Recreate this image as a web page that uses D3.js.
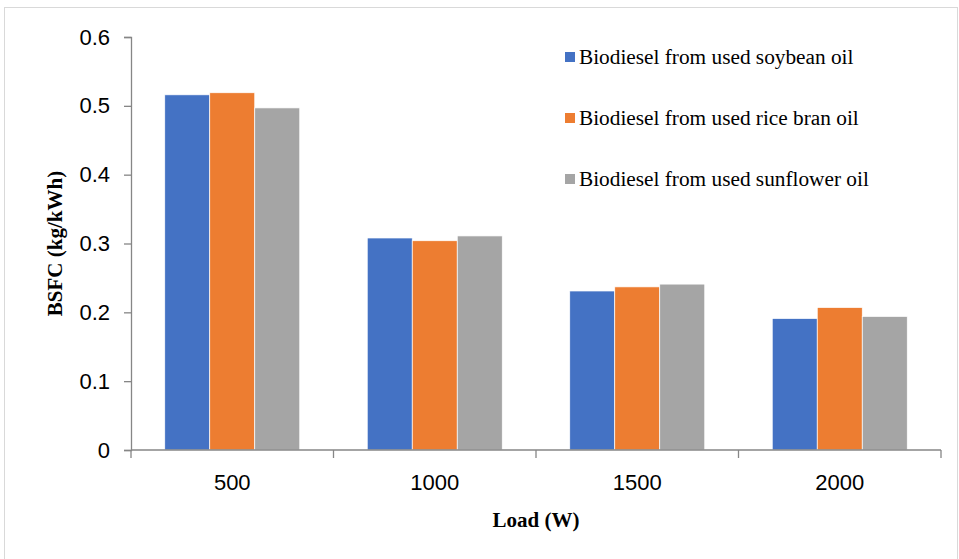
<!DOCTYPE html>
<html lang="en">
<head>
<meta charset="UTF-8">
<title>BSFC vs Load</title>
<script src="https://d3js.org/d3.v7.min.js"></script>
<style>
  body { margin: 0; background: #fff; }
  .tick text { font-family: "Liberation Sans", Arial, sans-serif; font-size: 22px; fill: #000; }
  .axis-title { font-family: "Liberation Serif", "Times New Roman", serif; font-size: 21px; font-weight: bold; }
  .legend text { font-family: "Liberation Serif", "Times New Roman", serif; font-size: 21.3px; }
</style>
</head>
<body>
<svg width="959" height="559"></svg>
<script>
// data
const loads = ["500", "1000", "1500", "2000"];
const seriesNames = [
  "Biodiesel from used soybean oil",
  "Biodiesel from used rice bran oil",
  "Biodiesel from used sunflower oil"
];
const soybean = [0.516, 0.308, 0.231, 0.191];
const riceBran = [0.519, 0.304, 0.237, 0.207];
const sunflower = [0.497, 0.311, 0.241, 0.194];
const colors = ["#4472c4", "#ed7d31", "#a5a5a5"];
const yTicks = [0, 0.1, 0.2, 0.3, 0.4, 0.5, 0.6];

const values = [soybean, riceBran, sunflower];
const rows = loads.map((l, i) => ({ load: l, vals: values.map(v => v[i]) }));

const svg = d3.select("svg");
const margin = { left: 131, right: 18, top: 37, bottom: 109 };
const W = 959, H = 559;

// outer frame
svg.append("rect")
  .attr("x", 4.5).attr("y", 7.5)
  .attr("width", 953).attr("height", 560)
  .attr("fill", "none").attr("stroke", "#d9d9d9");

const x = d3.scaleBand()
  .domain(loads)
  .range([margin.left, W - margin.right])
  .paddingInner(0).paddingOuter(0);

// gap width 150% -> bars take 3/4.5 of each category
const inner = d3.scaleBand()
  .domain(d3.range(seriesNames.length))
  .range([0, x.bandwidth()])
  .paddingOuter(0.75)
  .paddingInner(0);

const y = d3.scaleLinear().domain([0, 0.6]).range([H - margin.bottom, margin.top]);

// bars
const groups = svg.append("g").selectAll("g")
  .data(rows).join("g")
  .attr("transform", d => `translate(${x(d.load)},0)`);

groups.selectAll("rect")
  .data(d => d.vals.map((v, k) => ({ v, k })))
  .join("rect")
  .attr("x", d => inner(d.k))
  .attr("width", inner.bandwidth())
  .attr("y", d => y(d.v))
  .attr("height", d => y(0) - y(d.v))
  .attr("fill", d => colors[d.k])
  .attr("stroke", "#fff").attr("stroke-width", 0.7);

// y axis
const yAxis = svg.append("g")
  .attr("transform", `translate(${margin.left},0)`)
  .call(d3.axisLeft(y).tickValues(yTicks).tickSize(7).tickPadding(14)
    .tickFormat(d => d === 0 ? "0" : d3.format(".1f")(d)));
yAxis.selectAll("path, line").attr("stroke", "#868686").attr("stroke-width", 1.3);

// x axis
const xAxis = svg.append("g")
  .attr("transform", `translate(0,${y(0)})`)
  .call(d3.axisBottom(x).tickSize(0).tickPadding(24));
xAxis.select(".domain").attr("stroke", "#868686").attr("stroke-width", 1.3)
  .attr("d", `M${margin.left},0H${W - margin.right}`);
xAxis.selectAll(".boundary")
  .data(d3.range(loads.length + 1)).join("line")
  .attr("class", "boundary")
  .attr("x1", i => margin.left + i * x.bandwidth())
  .attr("x2", i => margin.left + i * x.bandwidth())
  .attr("y1", 0).attr("y2", 8)
  .attr("stroke", "#868686").attr("stroke-width", 1.3);

// axis titles
svg.append("text").attr("class", "axis-title")
  .attr("x", margin.left + (W - margin.right - margin.left) / 2).attr("y", 527)
  .attr("text-anchor", "middle").text("Load (W)");
svg.append("text").attr("class", "axis-title")
  .attr("transform", `translate(62,${y(0.3)}) rotate(-90)`)
  .attr("text-anchor", "middle").text("BSFC (kg/kWh)");

// legend
const legend = svg.append("g").attr("class", "legend")
  .attr("transform", "translate(565,57)");
const item = legend.selectAll("g").data(seriesNames).join("g")
  .attr("transform", (d, i) => `translate(0,${i * 61})`);
item.append("rect").attr("x", 0).attr("y", -5).attr("width", 10).attr("height", 10)
  .attr("fill", (d, i) => colors[i]);
item.append("text").attr("x", 14).attr("y", 6.5).text(d => d);
</script>
</body>
</html>
